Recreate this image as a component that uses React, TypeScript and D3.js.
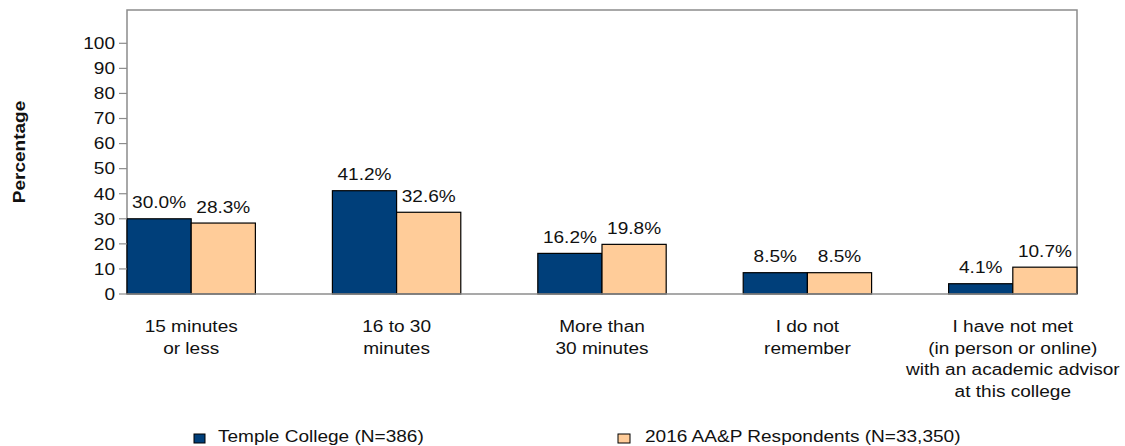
import React from "react";
import * as d3 from "d3";

const categories: string[][] = [
  ["15 minutes", "or less"],
  ["16 to 30", "minutes"],
  ["More than", "30 minutes"],
  ["I do not", "remember"],
  ["I have not met", "(in person or online)", "with an academic advisor", "at this college"],
];
const templeValues = [30.0, 41.2, 16.2, 8.5, 4.1];
const nationalValues = [28.3, 32.6, 19.8, 8.5, 10.7];
const seriesNames = ["Temple College (N=386)", "2016 AA&P Respondents (N=33,350)"];
const yTicks = [0, 10, 20, 30, 40, 50, 60, 70, 80, 90, 100];

const W = 1125;
const H = 446;
const left = 127;
const right = 1077;
const top = 10;
const bottom = 294;
const SX = 1.19;
const FONT = "'Liberation Sans', Arial, Helvetica, sans-serif";
const colors = ["#003F7A", "#FFCC99"];

function T(props: { x: number; y: number; children: React.ReactNode; anchor?: string; size?: number; weight?: string; rotate?: number }) {
  const { x, y, children, anchor = "middle", size = 16, weight = "normal", rotate = 0 } = props;
  return (
    <text
      transform={`translate(${x},${y}) rotate(${rotate}) scale(${SX},1)`}
      textAnchor={anchor as any}
      fontSize={size}
      fontWeight={weight}
      fontFamily={FONT}
      fill="#111"
    >
      {children}
    </text>
  );
}

export default function App() {
  const x0 = d3
    .scaleBand<number>()
    .domain(d3.range(categories.length))
    .range([left, right])
    .paddingInner(0.375)
    .paddingOuter(0);
  const x1 = d3.scaleBand<number>().domain([0, 1]).range([0, x0.bandwidth()]);
  const y = d3.scaleLinear().domain([0, 100]).range([bottom, 43.3]);
  const series = [templeValues, nationalValues];

  return (
    <svg width={W} height={H} style={{ position: "absolute", left: 0, top: 0, background: "#fff" }}>
      <rect x={0} y={0} width={W} height={H} fill="#fff" />
      {/* frame */}
      <path d={`M${left},${bottom} V${top} H${right} V${bottom}`} fill="none" stroke="#8c8c8c" strokeWidth={1.5} />
      {/* bars */}
      {series.map((vals, s) =>
        vals.map((v, i) => (
          <rect
            key={`b${s}-${i}`}
            x={(x0(i) as number) + (x1(s) as number)}
            y={y(v)}
            width={x1.bandwidth()}
            height={bottom - y(v)}
            fill={colors[s]}
            stroke="#000"
            strokeWidth={1.2}
          />
        ))
      )}
      {/* value labels */}
      {series.map((vals, s) =>
        vals.map((v, i) => (
          <T key={`l${s}-${i}`} x={(x0(i) as number) + (x1(s) as number) + x1.bandwidth() / 2} y={y(v) - 10.5}>
            {v.toFixed(1) + "%"}
          </T>
        ))
      )}
      {/* bottom axis */}
      <line x1={left} x2={right} y1={bottom} y2={bottom} stroke="#8c8c8c" strokeWidth={1.5} />
      {/* y ticks */}
      {yTicks.map((t) => (
        <g key={`t${t}`}>
          <line x1={left - 8} x2={left} y1={y(t)} y2={y(t)} stroke="#8c8c8c" strokeWidth={1.2} />
          <T x={115} y={y(t) + 5.8} anchor="end">
            {String(t)}
          </T>
        </g>
      ))}
      <T x={25} y={152} rotate={-90} weight="bold">
        Percentage
      </T>
      {/* category labels */}
      {categories.map((lines, i) =>
        lines.map((ln, j) => (
          <T key={`c${i}-${j}`} x={(x0(i) as number) + x0.bandwidth() / 2} y={332 + j * 21.5}>
            {ln}
          </T>
        ))
      )}
      {/* legend */}
      <rect x={194} y={434} width={11} height={9} fill={colors[0]} stroke="#000" strokeWidth={1} />
      <T x={218} y={442} anchor="start">
        {seriesNames[0]}
      </T>
      <rect x={618} y={434} width={12} height={9} fill={colors[1]} stroke="#000" strokeWidth={1} />
      <T x={645} y={442} anchor="start">
        {seriesNames[1]}
      </T>
    </svg>
  );
}
